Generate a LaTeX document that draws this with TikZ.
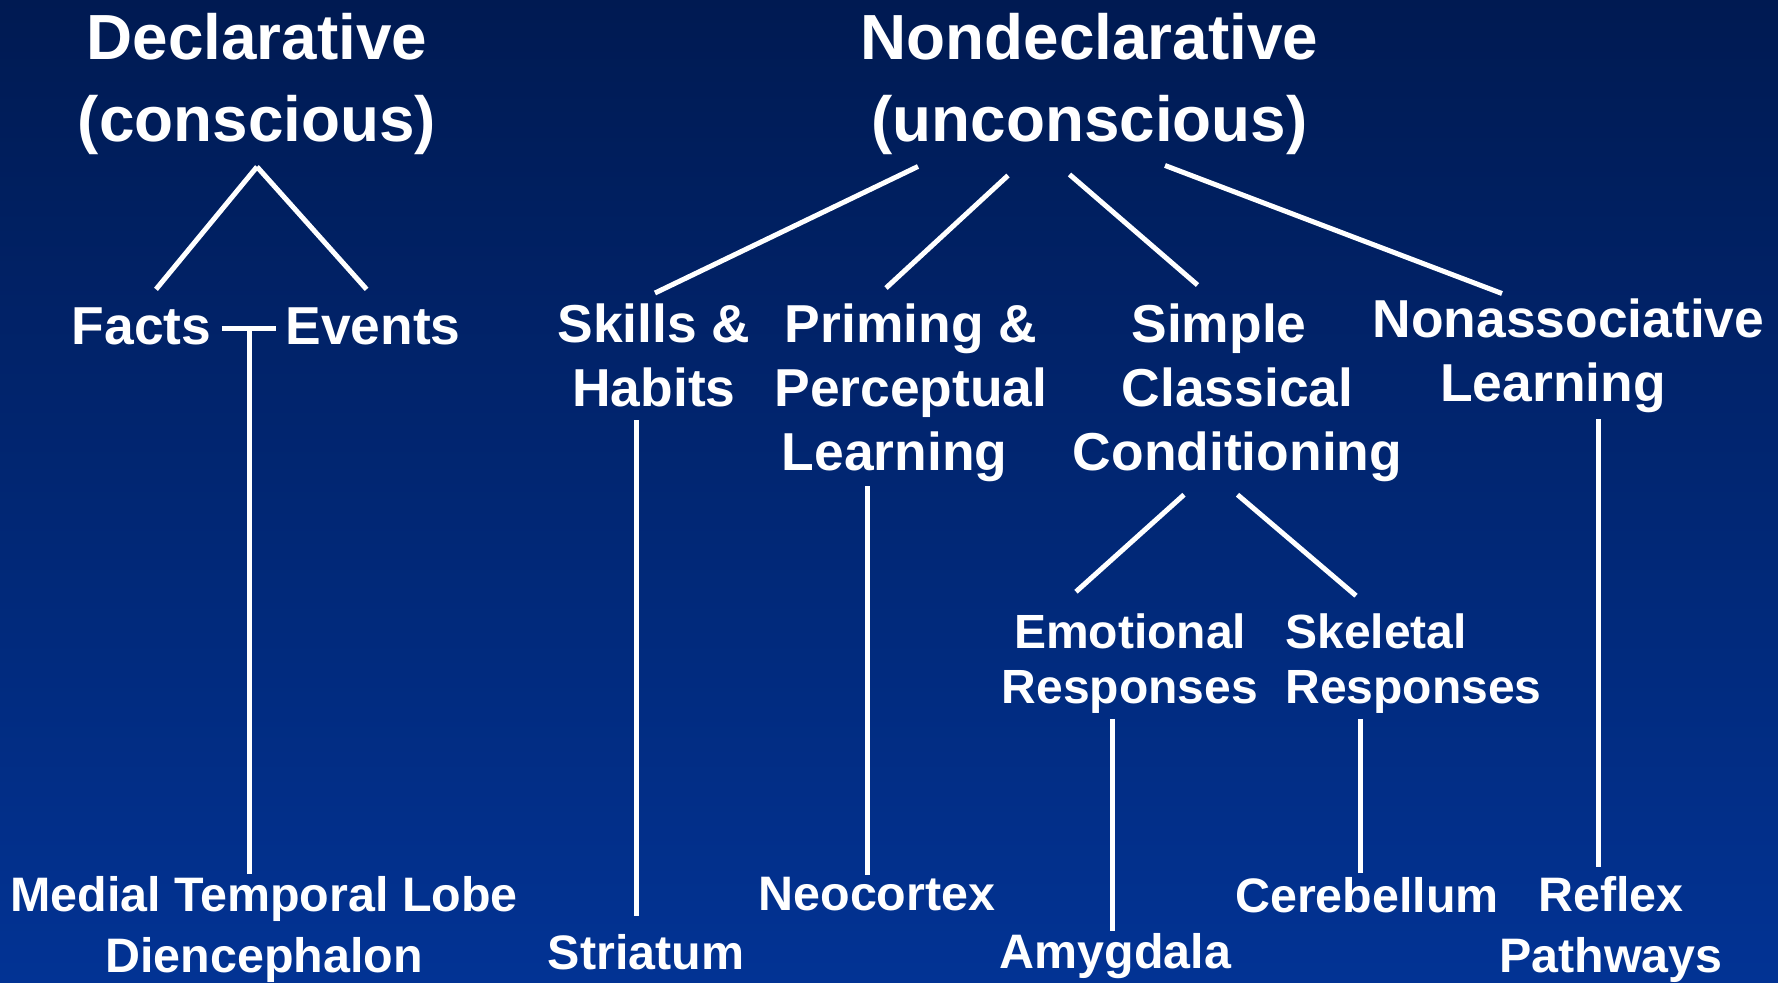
\documentclass[tikz,border=0pt]{standalone}
\usepackage{fontspec}
\setmainfont{Liberation Sans}
\usepackage{xcolor}
\usepackage{tikz}

\definecolor{slidetop}{RGB}{0,26,82}
\definecolor{slidebot}{RGB}{2,51,148}

\begin{document}
\begin{tikzpicture}[x=0.5pt, y=-0.5pt, line width=2.5pt, white,
  every node/.style={inner sep=0pt, align=center, anchor=north},
  head/.style={font=\fontsize{31.9}{41}\selectfont\bfseries},
  kind/.style={font=\fontsize{26.7}{32}\selectfont\bfseries},
  sub/.style={font=\fontsize{24}{27.5}\selectfont\bfseries},
  site/.style={font=\fontsize{24.2}{30.6}\selectfont\bfseries}]
  % background
  \shade[top color=slidetop, bottom color=slidebot] (0,0) rectangle (1778,982);
  \useasboundingbox (0,0) rectangle (1778,982);

  % memory systems
  \node[head] (decl)    at (257,11)    {Declarative\\(conscious)};
  \node[head] (nondecl) at (1089.5,11) {Nondeclarative\\(unconscious)};

  % kinds of memory
  \node[kind] (facts)    at (141.5,305)  {Facts};
  \node[kind] (events)   at (373,305)    {Events};
  \node[kind] (skills)   at (654,301)    {Skills \&\\Habits};
  \node[kind] (priming)  at (911,301)    {Priming \&\\Perceptual\\Learning\hspace*{16.5pt}};
  \node[kind] (simple)   at (1237.5,301) {Simple\hspace*{18.5pt}\\Classical\hspace*{12.5pt}\\Conditioning};
  \node[kind] (nonassoc) at (1568.5,296) {Nonassociative\\Learning\hspace*{15.5pt}};
  \node[sub] (emotion)   at (1130,611)   {Emotional\\Responses};
  \node[sub, anchor=north west, align=left] (skeletal) at (1283,611) {Skeletal\\Responses};

  % brain structures
  \node[site] (mtl)        at (264,874)    {Medial Temporal Lobe\\Diencephalon};
  \node[site] (striatum)   at (646,932)    {Striatum};
  \node[site] (neocortex)  at (877,875)    {Neocortex};
  \node[site] (amygdala)   at (1115.5,931) {Amygdala};
  \node[site] (cerebellum) at (1367,875)   {Cerebellum};
  \node[site] (reflex)     at (1611,874)   {Reflex\\Pathways};

  % declarative branch
  \draw ([yshift=-4.65pt]decl.south) -- ([xshift=7.25pt,yshift=7.85pt]facts.north);
  \draw ([yshift=-4.65pt]decl.south) -- ([xshift=-3.2pt,yshift=7.85pt]events.north);
  \draw ([xshift=4pt,yshift=-1.35pt]facts.east) -- coordinate[pos=0.52] (fejoin)
        ([xshift=-3.5pt,yshift=-1.35pt]events.west);
  \draw (fejoin) -- (fejoin |- mtl.north);

  % nondeclarative branch
  \foreach \sx/\sy/\child/\ex/\ey in {-85.75/-4.5/skills/0.5/4, -40.75/-9/priming/-12.5/6.5,
                                     -10/-8.5/simple/-20/8, 37.75/-4/nonassoc/-33.25/1.25}
    \draw ([xshift=\sx pt,yshift=\sy pt]nondecl.south) -- ([xshift=\ex pt,yshift=\ey pt]\child.north);
  \draw ([xshift=-26.75pt,yshift=-5.35pt]simple.south) -- ([xshift=-27pt,yshift=9.65pt]emotion.north);
  \draw ([yshift=-5.35pt]simple.south) -- ([xshift=36.5pt,yshift=7.65pt]skeletal.north west);

  % down to the brain structures
  \foreach \up/\dx/\down/\ga/\gb in {skills.south/-9/striatum/5.5/8, priming.south/-22/neocortex/1/0,
                                     nonassoc.south/15/reflex/2/3.5, emotion.south/-8.6/amygdala/1.5/0,
                                     skeletal.south west/38.75/cerebellum/1.5/1}
    \draw[shorten <=\ga pt, shorten >=\gb pt] ([xshift=\dx pt]\up) coordinate (top) -- (top |- \down.north);
\end{tikzpicture}
\end{document}
